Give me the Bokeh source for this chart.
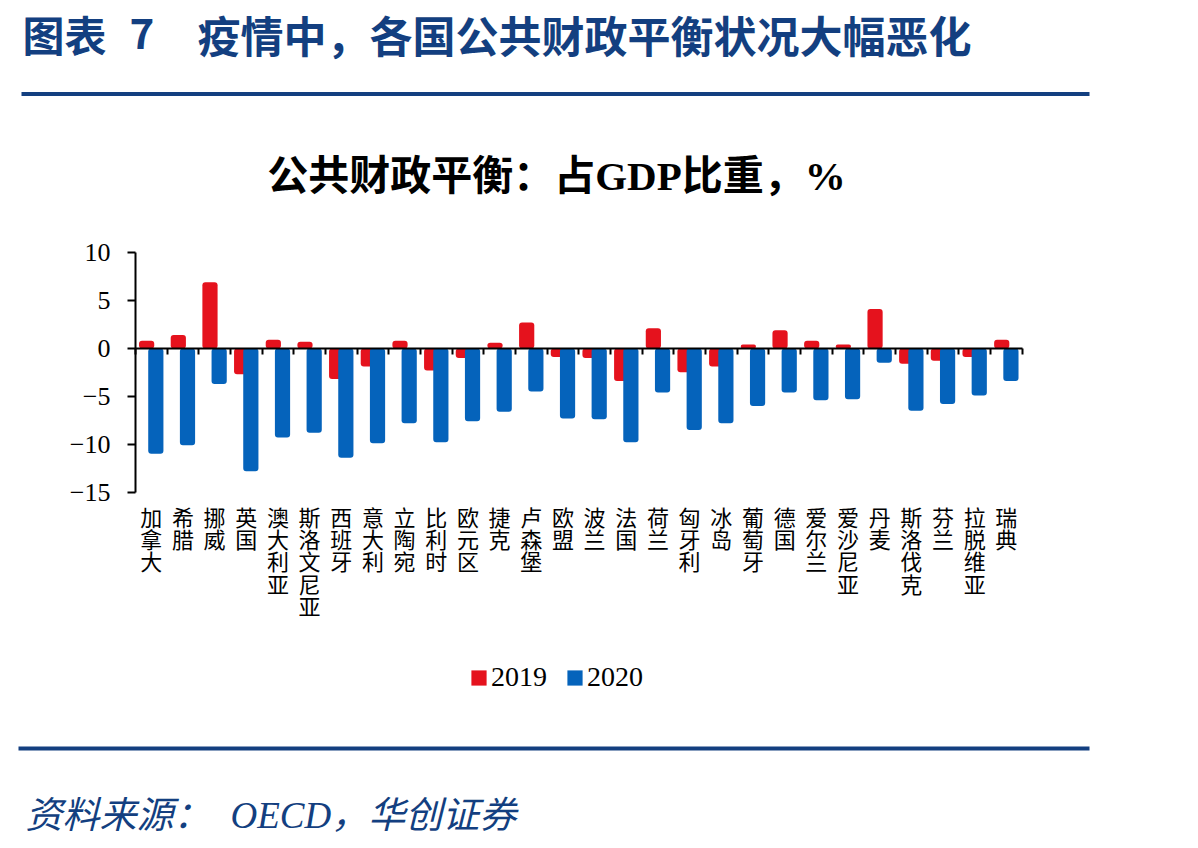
from bokeh.plotting import figure
from bokeh.models import FixedTicker, Legend, LegendItem, Range1d
from bokeh.core.properties import value
from bokeh.embed import file_html
from bokeh.resources import INLINE

# General government fiscal balance, % of GDP (OECD)
countries = ["加拿大", "希腊", "挪威", "英国", "澳大利亚", "斯洛文尼亚", "西班牙",
             "意大利", "立陶宛", "比利时", "欧元区", "捷克", "卢森堡", "欧盟", "波兰",
             "法国", "荷兰", "匈牙利", "冰岛", "葡萄牙", "德国", "爱尔兰", "爱沙尼亚",
             "丹麦", "斯洛伐克", "芬兰", "拉脱维亚", "瑞典"]
bal_2019 = [0.8, 1.4, 6.9, -2.7, 0.9, 0.7, -3.2, -1.9, 0.8, -2.3, -1.0, 0.6, 2.7, -0.9,
            -1.0, -3.4, 2.1, -2.5, -1.9, 0.4, 1.9, 0.8, 0.4, 4.1, -1.6, -1.3, -0.9, 0.9]
bal_2020 = [-11.0, -10.1, -3.7, -12.8, -9.3, -8.8, -11.4, -9.9, -7.8, -9.8, -7.6, -6.6,
            -4.5, -7.3, -7.4, -9.8, -4.6, -8.5, -7.8, -6.0, -4.6, -5.4, -5.3, -1.5,
            -6.5, -5.8, -4.9, -3.4]
series_names = ["2019", "2020"]
y_ticks = [-15, -10, -5, 0, 5, 10]

RED = "#E5121D"
BLUE = "#0563BB"
NAVY = "#133F80"

W, H = 1198, 848
# the frame spans the whole canvas; these set where the value axes sit on it
X0_PX, PX_PER_X = 134.9, 31.67
Y0_PX, PX_PER_Y = 347.9, 9.588


def dx(px):
    return (px - X0_PX) / PX_PER_X


def dy(py):
    return (Y0_PX - py) / PX_PER_Y


p = figure(width=W, height=H, output_backend="svg", toolbar_location=None,
           x_range=Range1d(dx(0), dx(W)), y_range=Range1d(dy(H), dy(0)),
           min_border=0, outline_line_color=None,
           background_fill_color="white", border_fill_color="white")
p.grid.visible = False

n = len(countries)
centers = [i + 0.5 for i in range(n)]

# category axis along zero
xa = p.xaxis[0]
xa.fixed_location = 0
xa.bounds = (0, n)
xa.ticker = FixedTicker(ticks=list(range(n + 1)))
xa.major_label_overrides = {i: "" for i in range(n + 1)}
xa.major_tick_in = 0
xa.major_tick_out = 6
xa.minor_tick_line_color = None
xa.axis_line_width = 2
xa.major_tick_line_width = 2
xa.axis_line_color = "black"
xa.major_tick_line_color = "black"

ya = p.yaxis[0]
ya.fixed_location = 0
ya.bounds = (y_ticks[0], y_ticks[-1])
ya.ticker = FixedTicker(ticks=y_ticks)
ya.major_tick_in = 0
ya.major_tick_out = 8
ya.minor_tick_line_color = None
ya.axis_line_width = 2
ya.major_tick_line_width = 2
ya.axis_line_color = "black"
ya.major_tick_line_color = "black"
ya.major_label_standoff = 17
ya.major_label_text_font = "Liberation Serif"
ya.major_label_text_font_size = "26px"
ya.major_label_text_color = "black"

r19 = p.vbar(x=[c - 0.145 for c in centers], top=bal_2019, bottom=0, width=0.48,
             fill_color=RED, line_color=None, border_radius=3)
r20 = p.vbar(x=[c + 0.145 for c in centers], top=bal_2020, bottom=0, width=0.48,
             fill_color=BLUE, line_color=None, border_radius=3)

# vertical category names, one character per line
p.text(x=centers, y=[dy(499)] * n, text=["\n".join(c) for c in countries],
       text_align="center", text_baseline="top", text_line_height=0.7,
       text_font=value("Noto Sans CJK SC"), text_font_size="22px", text_color="black")

# header and rules
HEAD_Y = 33
p.text(x=[dx(22)], y=[dy(HEAD_Y)], text=["图表"], text_baseline="middle",
       text_font=value("Noto Sans CJK SC"), text_font_style="bold",
       text_font_size="42px", text_color=NAVY)
p.text(x=[dx(129)], y=[dy(HEAD_Y)], text=["7"], text_baseline="middle",
       text_font=value("Noto Sans CJK SC"), text_font_style="bold",
       text_font_size="42px", text_color=NAVY)
p.text(x=[dx(197)], y=[dy(HEAD_Y)], text=["疫情中，各国公共财政平衡状况大幅恶化"],
       text_baseline="middle", text_font=value("Noto Sans CJK SC"),
       text_font_style="bold", text_font_size="43px", text_color=NAVY)
p.segment(x0=[dx(21)], x1=[dx(1089)], y0=[dy(93.5)], y1=[dy(93.5)],
          line_width=4, line_color=NAVY)
p.segment(x0=[dx(18)], x1=[dx(1089)], y0=[dy(748)], y1=[dy(748)],
          line_width=4, line_color=NAVY)

p.text(x=[dx(556)], y=[dy(175)], text=["公共财政平衡：占GDP比重，%"],
       text_align="center", text_baseline="middle",
       text_font=value("Liberation Serif, Noto Sans CJK SC"), text_font_style="bold",
       text_font_size="41px", text_color="black")

# source line
p.text(x=[dx(25)], y=[dy(815)], text=["资料来源："],
       text_baseline="middle", text_font=value("Liberation Serif, Noto Sans CJK SC"),
       text_font_style="italic", text_font_size="37px", text_color=NAVY)
p.text(x=[dx(230)], y=[dy(815)], text=["OECD，华创证券"],
       text_baseline="middle", text_font=value("Liberation Serif, Noto Sans CJK SC"),
       text_font_style="italic", text_font_size="37px", text_color=NAVY)

legend = Legend(items=[LegendItem(label=series_names[0], renderers=[r19]),
                       LegendItem(label=series_names[1], renderers=[r20])],
                orientation="horizontal", location=(469, H - 693),
                padding=0, margin=0, spacing=18, glyph_width=19, glyph_height=19,
                label_standoff=3, label_height=19,
                label_text_font="Liberation Serif", label_text_font_size="28px",
                label_text_color="black", border_line_color=None,
                background_fill_alpha=0)
p.add_layout(legend)

open("out.html", "w").write(file_html(p, INLINE))
